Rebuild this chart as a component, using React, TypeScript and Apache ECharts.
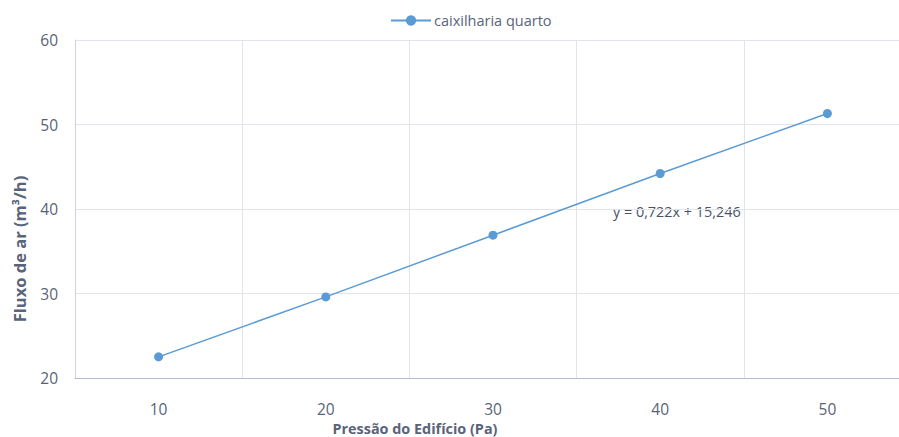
import React, { useEffect, useRef } from "react";
import * as echarts from "echarts";

// Building pressure (Pa) against measured air flow (m³/h)
const pressures = ["10", "20", "30", "40", "50"];
const airFlow = [22.5, 29.6, 36.9, 44.2, 51.3];
const seriesName = "caixilharia quarto";
const trendLabel = "y = 0,722x + 15,246";
const yTitle = "Fluxo de ar (m³/h)";
const xTitle = "Pressão do Edifício (Pa)";

const FONT = "'Open Sans', 'Noto Sans', sans-serif";
const TEXT = "#59647a";
const LINE = "#5b9bd5";

export default function App() {
  const ref = useRef<HTMLDivElement>(null);

  useEffect(() => {
    if (!ref.current) return;
    const chart = echarts.init(ref.current, undefined, { renderer: "svg" });
    chart.setOption({
      animation: false,
      backgroundColor: "#ffffff",
      textStyle: { fontFamily: FONT },
      legend: {
        top: 8,
        left: 385,
        itemWidth: 40,
        itemHeight: 13,
        itemGap: 6,
        textStyle: { color: TEXT, fontSize: 14.5, fontFamily: FONT, padding: [0, 0, 0, -2] },
        data: [seriesName],
      },
      // the plot runs past the right edge of the page, so the last column is cut off
      grid: { left: 75, right: 0, top: 40, bottom: 59, containLabel: false },
      xAxis: {
        type: "category",
        data: pressures,
        boundaryGap: true,
        axisLine: { show: true, lineStyle: { color: "#b3bfd0", width: 1 } },
        axisTick: { show: false },
        axisLabel: { color: TEXT, fontSize: 15.5, margin: 23, fontFamily: FONT },
        splitLine: { show: true, lineStyle: { color: "#e1e5eb", width: 1 } },
      },
      yAxis: {
        type: "value",
        min: 20,
        max: 60,
        interval: 10,
        axisLine: { show: true, lineStyle: { color: "#c9d2de", width: 1 } },
        axisTick: { show: false },
        axisLabel: { color: TEXT, fontSize: 15.5, margin: 17, fontFamily: FONT },
        splitLine: { show: true, lineStyle: { color: "#e1e5eb", width: 1 } },
      },
      series: [
        {
          name: seriesName,
          type: "line",
          data: airFlow,
          symbol: "circle",
          symbolSize: 9,
          itemStyle: { color: LINE },
          lineStyle: { color: LINE, width: 1.5 },
        },
      ],
      graphic: [
        {
          type: "text",
          left: 613,
          top: 204,
          style: { text: trendLabel, fill: "#4a5366", fontSize: 14.4, fontFamily: FONT },
        },
        {
          type: "text",
          x: 19,
          y: 249,
          rotation: Math.PI / 2,
          style: {
            text: yTitle,
            fill: TEXT,
            fontSize: 16.5,
            fontWeight: "bold",
            fontFamily: FONT,
            align: "center",
            verticalAlign: "middle",
          },
        },
        {
          type: "text",
          x: 415,
          y: 428,
          style: {
            text: xTitle,
            fill: TEXT,
            fontSize: 14.4,
            fontWeight: "bold",
            fontFamily: FONT,
            align: "center",
            verticalAlign: "middle",
          },
        },
      ],
    });
    return () => chart.dispose();
  }, []);

  return (
    <div
      ref={ref}
      style={{ position: "fixed", left: 0, top: 0, width: 911, height: 437 }}
    />
  );
}
